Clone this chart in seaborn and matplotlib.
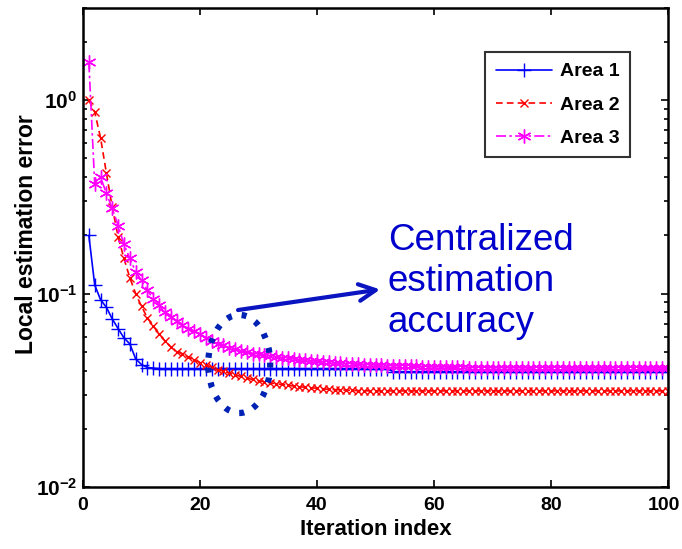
import numpy as np
import pandas as pd
import matplotlib
matplotlib.use("Agg")
import matplotlib.pyplot as plt
import matplotlib.transforms as mtransforms
import seaborn as sns
from matplotlib.patches import Ellipse
from matplotlib.ticker import LogLocator, NullFormatter, FixedLocator

iterations = list(range(1, 101))

area1 = [0.200, 0.111, 0.093, 0.085, 0.074, 0.066, 0.059, 0.055, 0.046, 0.043,
         0.0415, 0.0412, 0.0410, 0.0410, 0.0410, 0.0410, 0.0410, 0.0410, 0.0410, 0.0410,
         0.0410, 0.0410, 0.0410, 0.0410, 0.0410, 0.0410, 0.0410, 0.0410, 0.0410, 0.0410,
         0.0410, 0.0410, 0.0410, 0.0410, 0.0410, 0.0410, 0.0410, 0.0410, 0.0410, 0.0410,
         0.0410, 0.0410, 0.0410, 0.0410, 0.0410, 0.0410, 0.0410, 0.0410, 0.0410, 0.0410,
         0.0410, 0.0410, 0.0395, 0.0395, 0.0395, 0.0395, 0.0395, 0.0395, 0.0395, 0.0395,
         0.0395, 0.0395, 0.0395, 0.0395, 0.0395, 0.0395, 0.0395, 0.0395, 0.0395, 0.0395,
         0.0395, 0.0395, 0.0395, 0.0395, 0.0395, 0.0395, 0.0395, 0.0395, 0.0395, 0.0395,
         0.0395, 0.0395, 0.0395, 0.0395, 0.0395, 0.0395, 0.0395, 0.0395, 0.0395, 0.0395,
         0.0395, 0.0395, 0.0395, 0.0395, 0.0395, 0.0395, 0.0395, 0.0395, 0.0395, 0.0395]

area2 = [1.00, 0.87, 0.64, 0.42, 0.28, 0.197, 0.152, 0.121, 0.100, 0.086,
         0.075, 0.068, 0.062, 0.057, 0.053, 0.050, 0.049, 0.047, 0.0455, 0.044,
         0.0428, 0.0416, 0.0405, 0.0396, 0.0388, 0.0380, 0.0373, 0.0366, 0.0360, 0.0355,
         0.0350, 0.0346, 0.0342, 0.0339, 0.0336, 0.0333, 0.0330, 0.0328, 0.0326, 0.0324,
         0.0322, 0.0320, 0.0319, 0.0318, 0.0317, 0.0316, 0.0315, 0.0315, 0.0314, 0.0314,
         0.0314, 0.0314, 0.0314, 0.0314, 0.0314, 0.0314, 0.0314, 0.0314, 0.0314, 0.0314,
         0.0314, 0.0314, 0.0314, 0.0314, 0.0314, 0.0314, 0.0314, 0.0314, 0.0314, 0.0314,
         0.0314, 0.0314, 0.0314, 0.0314, 0.0314, 0.0314, 0.0314, 0.0314, 0.0314, 0.0314,
         0.0314, 0.0314, 0.0314, 0.0314, 0.0314, 0.0314, 0.0314, 0.0314, 0.0314, 0.0314,
         0.0314, 0.0314, 0.0314, 0.0314, 0.0314, 0.0314, 0.0314, 0.0314, 0.0314, 0.0314]

area3 = [1.57, 0.37, 0.40, 0.33, 0.276, 0.225, 0.180, 0.152, 0.130, 0.117,
         0.104, 0.094, 0.087, 0.080, 0.076, 0.072, 0.069, 0.066, 0.064, 0.062,
         0.059, 0.057, 0.055, 0.054, 0.0525, 0.0515, 0.0505, 0.0497, 0.0490, 0.0485,
         0.0480, 0.0475, 0.0470, 0.0466, 0.0462, 0.0458, 0.0455, 0.0452, 0.0449, 0.0446,
         0.0443, 0.0441, 0.0439, 0.0437, 0.0435, 0.0433, 0.0431, 0.0430, 0.0428, 0.0427,
         0.0426, 0.0425, 0.0424, 0.0423, 0.0422, 0.0421, 0.0420, 0.0419, 0.0418, 0.0418,
         0.0417, 0.0417, 0.0416, 0.0416, 0.0416, 0.0415, 0.0415, 0.0415, 0.0415, 0.0414,
         0.0414, 0.0414, 0.0414, 0.0414, 0.0413, 0.0413, 0.0413, 0.0413, 0.0413, 0.0413,
         0.0413, 0.0413, 0.0412, 0.0412, 0.0412, 0.0412, 0.0412, 0.0412, 0.0412, 0.0412,
         0.0412, 0.0412, 0.0412, 0.0412, 0.0412, 0.0412, 0.0412, 0.0412, 0.0412, 0.0412]

x_ticks = [0, 20, 40, 60, 80, 100]
y_ticks = [0.01, 0.1, 1]
y_ticklabels = [r"$\mathbf{10^{-2}}$", r"$\mathbf{10^{-1}}$", r"$\mathbf{10^{0}}$"]

sns.set_style("ticks")
plt.rcParams["font.family"] = ["Liberation Sans", "DejaVu Sans"]
plt.rcParams["text.color"] = "black"
plt.rcParams["axes.labelcolor"] = "black"
plt.rcParams["xtick.color"] = "black"
plt.rcParams["ytick.color"] = "black"
plt.rcParams["mathtext.fontset"] = "custom"
plt.rcParams["mathtext.rm"] = "Liberation Sans:bold"
plt.rcParams["mathtext.bf"] = "Liberation Sans:bold"
plt.rcParams["mathtext.it"] = "Liberation Sans:bold"

fig = plt.figure(figsize=(6.82, 5.49), dpi=100)
ax = fig.add_axes([0.1217, 0.1129, 0.8578, 0.8725])

series = [
    ("Area 1", area1, "#0000FF", "+", "-", 10),
    ("Area 2", area2, "#FF0000", "x", (0, (4, 2.5)), 6),
    ("Area 3", area3, "#FF00FF", (6, 2, 0), (0, (6, 2, 1.5, 2)), 10),
]
for name, vals, col, mk, ls, ms in series:
    df = pd.DataFrame({"Iteration": iterations, "Error": vals})
    sns.lineplot(data=df, x="Iteration", y="Error", ax=ax, color=col, marker=mk,
                 linestyle=ls, linewidth=1.2, markersize=ms, markeredgecolor=col,
                 markeredgewidth=1.0, label=name, errorbar=None)

ax.set_yscale("log")
ax.set_xlim(0, 100)
ax.set_ylim(0.01, 3)
ax.xaxis.set_major_locator(FixedLocator(x_ticks))
ax.set_xticklabels([str(t) for t in x_ticks])
ax.yaxis.set_major_locator(FixedLocator(y_ticks))
ax.set_yticklabels(y_ticklabels)
ax.yaxis.set_minor_locator(LogLocator(base=10, subs=np.arange(2, 10)))
ax.yaxis.set_minor_formatter(NullFormatter())

ax.tick_params(axis="both", which="both", direction="in", top=True, right=True,
               width=1.2, colors="black")
ax.tick_params(axis="both", which="major", length=5)
ax.tick_params(axis="y", which="minor", length=3)
ax.tick_params(axis="x", which="major", labelsize=14, pad=7)
ax.tick_params(axis="y", which="major", labelsize=15, pad=4)
for lab in ax.get_xticklabels():
    lab.set_fontweight("bold")
last = ax.get_xticklabels()[-1]
last.set_transform(last.get_transform() +
                   mtransforms.ScaledTranslation(-4 / 100, 0, fig.dpi_scale_trans))
for sp in ax.spines.values():
    sp.set_visible(True)
    sp.set_linewidth(1.8)
    sp.set_color("black")

ax.set_xlabel("Iteration index", fontsize=16, fontweight="bold", labelpad=4)
ax.set_ylabel("Local estimation error", fontsize=16.5, fontweight="bold")
ax.yaxis.set_label_coords(-0.077, 0.528)

leg = ax.legend(loc="upper left", bbox_to_anchor=(0.687, 0.908),
                prop={"weight": "bold", "size": 14}, frameon=True, fancybox=False,
                handlelength=2.9, labelspacing=0.8, borderpad=0.55,
                handletextpad=0.4, borderaxespad=0)
leg.get_frame().set_edgecolor("black")
leg.get_frame().set_linewidth(1.5)

ell = Ellipse((0.267, 0.257), 0.106, 0.205, transform=ax.transAxes, fill=False,
              edgecolor="#0022B4", linewidth=4.5, linestyle=(0, (0.8, 1.6)), zorder=5)
ax.add_patch(ell)

ax.annotate("", xy=(0.508, 0.4125), xytext=(0.265, 0.3695),
            xycoords="axes fraction", textcoords="axes fraction",
            arrowprops=dict(arrowstyle="->", color="#0A14C0", lw=3,
                            mutation_scale=30, shrinkA=0, shrinkB=0))
ax.text(0.521, 0.551, "Centralized\nestimation\naccuracy", transform=ax.transAxes,
        fontsize=26.5, color="#0000CC", ha="left", va="top", linespacing=1.22)

fig.savefig("out.png", dpi=100)
